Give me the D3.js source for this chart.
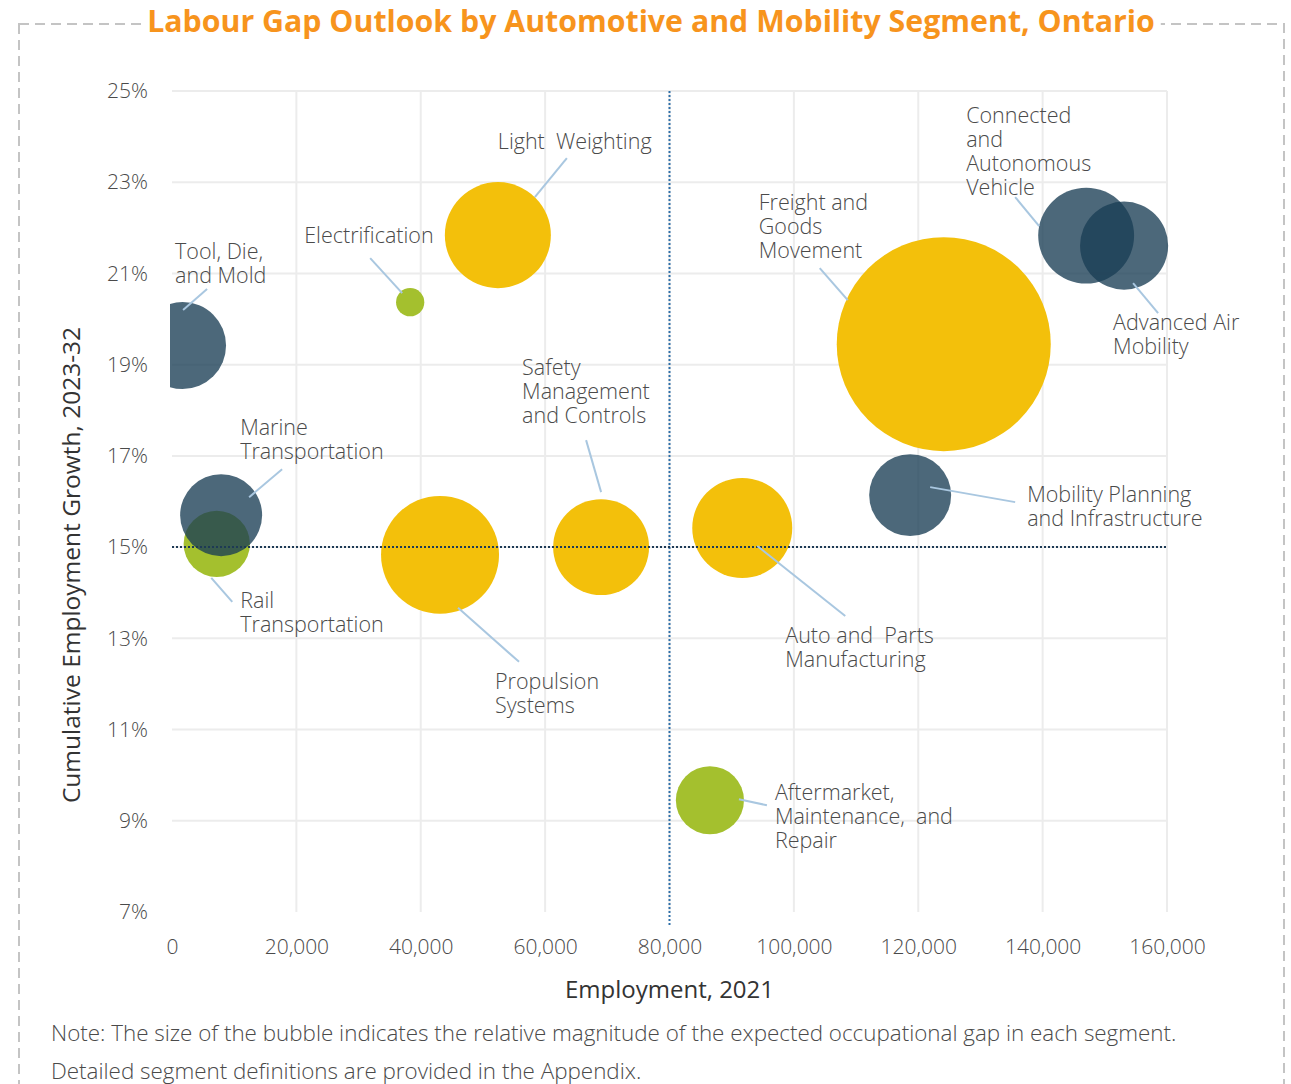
<!DOCTYPE html>
<html>
<head>
<meta charset="utf-8">
<script src="https://cdn.jsdelivr.net/npm/d3@7"></script>
<style>
  body { margin: 0; background: #fff; }
  text { font-family: 'Open Sans', Lato, sans-serif; }
</style>
</head>
<body>
<div id="chart"></div>
<script>
//
// Bubble chart: labour gap outlook by segment.
//
var segments = ['Rail Transportation', 'Marine Transportation', 'Tool, Die, and Mold', 'Electrification',
  'Light Weighting', 'Propulsion Systems', 'Safety Management and Controls', 'Auto and Parts Manufacturing',
  'Aftermarket, Maintenance, and Repair', 'Mobility Planning and Infrastructure', 'Freight and Goods Movement',
  'Connected and Autonomous Vehicle', 'Advanced Air Mobility'];
var employment = [7200, 7900, 1700, 38300, 52400, 43100, 69000, 91700, 86500, 118700, 124100, 147000, 153100];
var growth = [15.07, 15.70, 19.42, 20.37, 21.84, 14.83, 15.00, 15.42, 9.45, 16.14, 19.45, 21.83, 21.61];
var gap = [110, 168, 189, 20, 281, 348, 230, 250, 116, 168, 1145, 230, 194];
var group = ['green', 'blue', 'blue', 'green', 'yellow', 'yellow', 'yellow', 'yellow', 'green', 'blue', 'yellow', 'blue', 'blue'];
// label text, split into lines as in the original
var labelLines = [
  ['Rail', 'Transportation'],
  ['Marine', 'Transportation'],
  ['Tool, Die,', 'and Mold'],
  ['Electrification'],
  ['Light  Weighting'],
  ['Propulsion', 'Systems'],
  ['Safety', 'Management', 'and Controls'],
  ['Auto and  Parts', 'Manufacturing'],
  ['Aftermarket,', 'Maintenance,  and', 'Repair'],
  ['Mobility Planning', 'and Infrastructure'],
  ['Freight and', 'Goods', 'Movement'],
  ['Connected', 'and', 'Autonomous', 'Vehicle'],
  ['Advanced Air', 'Mobility']
];
var xTicks = [0, 20000, 40000, 60000, 80000, 100000, 120000, 140000, 160000];
var yTicks = [7, 9, 11, 13, 15, 17, 19, 21, 23, 25];
var avgEmployment = 80000;
var avgGrowth = 15;

// label placement (px offsets from bubble centre): text anchor, leader start, leader end
var labelLayout = [
  {tx: 23.5, ty: 57, l1: [-5.5, 34], l2: [15.5, 58]},
  {tx: 19, ty: -88, l1: [28, -18], l2: [61, -46]},
  {tx: -7.5, ty: -94.5, l1: [0.5, -35.5], l2: [24.5, -56.5]},
  {tx: -106, ty: -67, l1: [-8, -9], l2: [-40, -44]},
  {tx: 0, ty: -94, l1: [37, -38], l2: [69, -77]},
  {tx: 55, ty: 127, l1: [18, 53], l2: [79, 107]},
  {tx: -79, ty: -180, l1: [0, -55], l2: [-15, -107]},
  {tx: 43, ty: 108, l1: [15, 18], l2: [103, 88]},
  {tx: 65, ty: -8, l1: [29, -1], l2: [57, 5]},
  {tx: 117, ty: -1, l1: [20, -8], l2: [105, 7]},
  {tx: -185, ty: -142, l1: [-96, -44], l2: [-124, -76]},
  {tx: -120, ty: -120.5, l1: [-47, -9.5], l2: [-71, -38.5]},
  {tx: -11, ty: 76.5, l1: [9, 37.5], l2: [34, 67.5]}
];

var W = 1291, H = 1084;
var colors = {yellow: '#f3c00b', green: '#a4c02e', blue: 'rgba(25,62,84,0.78)'};
var textColor = '#4a4a4a';

var svg = d3.select('#chart').append('svg')
  .attr('width', W).attr('height', H);

// dashed frame
svg.append('rect')
  .attr('x', 19).attr('y', 24).attr('width', 1265).attr('height', 1100)
  .attr('fill', 'none').attr('stroke', '#c4c4c4').attr('stroke-width', 2)
  .attr('stroke-dasharray', '10,6');

var x = d3.scaleLinear().domain([0, 160000]).range([172, 1167]);
var y = d3.scaleLinear().domain([7, 25]).range([912, 91]);
var r = d3.scaleSqrt().domain([0, d3.max(gap)]).range([0, 107]);

// gridlines
svg.append('g').selectAll('line')
  .data(xTicks.filter(function(d) { return d > 0; }))
  .enter().append('line')
  .attr('x1', function(d) { return x(d); }).attr('x2', function(d) { return x(d); })
  .attr('y1', y(25)).attr('y2', y(7))
  .attr('stroke', '#ececec').attr('stroke-width', 2);
svg.append('g').selectAll('line')
  .data(yTicks.filter(function(d) { return d > 7; }))
  .enter().append('line')
  .attr('x1', x(0)).attr('x2', x(160000))
  .attr('y1', function(d) { return y(d); }).attr('y2', function(d) { return y(d); })
  .attr('stroke', '#ececec').attr('stroke-width', 2);

// axes (labels only)
var xAxis = svg.append('g')
  .attr('transform', 'translate(0,' + (y(7) + 24) + ')')
  .call(d3.axisBottom(x).tickValues(xTicks).tickSize(0).tickFormat(d3.format(',')));
var yAxis = svg.append('g')
  .attr('transform', 'translate(' + (x(0) - 24) + ',0)')
  .call(d3.axisLeft(y).tickValues(yTicks).tickSize(0).tickFormat(function(d) { return d + '%'; }));
[xAxis, yAxis].forEach(function(a) {
  a.select('.domain').remove();
  a.selectAll('text')
    .style('font-size', '21px').style('font-weight', 300)
    .style('font-family', "'Open Sans', Lato, sans-serif")
    .attr('fill', textColor);
});
xAxis.selectAll('text').attr('dy', '0.71em');
yAxis.selectAll('text').attr('dy', '0.32em').attr('x', 0);

// axis titles
svg.append('text')
  .attr('x', x(80000)).attr('y', 998)
  .attr('text-anchor', 'middle')
  .style('font-size', '24px').attr('fill', '#333')
  .text('Employment, 2021');
svg.append('text')
  .attr('transform', 'translate(80,565) rotate(-90)')
  .attr('text-anchor', 'middle')
  .style('font-size', '24.5px').attr('fill', '#333')
  .text('Cumulative Employment Growth, 2023-32');

// bubbles
svg.append('clipPath').attr('id', 'plotclip')
  .append('rect').attr('x', 170).attr('y', 0).attr('width', 1100).attr('height', H);

var idx = d3.range(segments.length);
svg.append('g').attr('clip-path', 'url(#plotclip)')
  .selectAll('circle')
  .data(idx)
  .enter().append('circle')
  .attr('cx', function(i) { return x(employment[i]); })
  .attr('cy', function(i) { return y(growth[i]); })
  .attr('r', function(i) { return r(gap[i]); })
  .attr('fill', function(i) { return colors[group[i]]; })
  .append('title').text(function(i) { return segments[i]; });

// average lines
svg.append('line')
  .attr('x1', x(avgEmployment)).attr('x2', x(avgEmployment))
  .attr('y1', y(25)).attr('y2', y(7) + 14)
  .attr('stroke', '#2e6fa8').attr('stroke-width', 2)
  .attr('stroke-dasharray', '2,2');
svg.append('line')
  .attr('x1', x(0)).attr('x2', x(160000))
  .attr('y1', y(avgGrowth)).attr('y2', y(avgGrowth))
  .attr('stroke', '#1d3a55').attr('stroke-width', 2)
  .attr('stroke-dasharray', '2,2');

// leader lines and labels
var lab = svg.append('g').selectAll('g')
  .data(idx)
  .enter().append('g')
  .attr('transform', function(i) {
    return 'translate(' + x(employment[i]) + ',' + y(growth[i]) + ')';
  });
lab.append('line')
  .attr('x1', function(i) { return labelLayout[i].l1[0]; })
  .attr('y1', function(i) { return labelLayout[i].l1[1]; })
  .attr('x2', function(i) { return labelLayout[i].l2[0]; })
  .attr('y2', function(i) { return labelLayout[i].l2[1]; })
  .attr('stroke', '#a9c7e0').attr('stroke-width', 2);
var labText = lab.append('text')
  .attr('y', function(i) { return labelLayout[i].ty; })
  .style('font-size', '21.5px').style('font-weight', 300)
  .style('white-space', 'pre')
  .attr('fill', textColor);
labText.each(function(i) {
  var t = d3.select(this);
  labelLines[i].forEach(function(s, k) {
    t.append('tspan')
      .attr('x', labelLayout[i].tx)
      .attr('dy', k === 0 ? '0.35em' : 24)
      .text(s);
  });
});

// title on a white patch over the frame
var titleBg = svg.append('rect').attr('fill', '#fff');
var title = svg.append('text')
  .attr('x', 651).attr('y', 32)
  .attr('text-anchor', 'middle')
  .style('font-size', '30.3px').style('font-weight', 700)
  .attr('fill', '#f7941d')
  .text('Labour Gap Outlook by Automotive and Mobility Segment, Ontario');
var bb = title.node().getBBox();
titleBg.attr('x', bb.x - 6).attr('y', 8).attr('width', bb.width + 12).attr('height', 32);

// note
var note = ['Note: The size of the bubble indicates the relative magnitude of the expected occupational gap in each segment.',
  'Detailed segment definitions are provided in the Appendix.'];
svg.append('g').selectAll('text')
  .data(note)
  .enter().append('text')
  .attr('x', 51).attr('y', function(d, i) { return 1041 + i * 38; })
  .style('font-size', '22.4px').style('font-weight', 300)
  .attr('fill', textColor)
  .text(function(d) { return d; });
</script>
</body>
</html>
